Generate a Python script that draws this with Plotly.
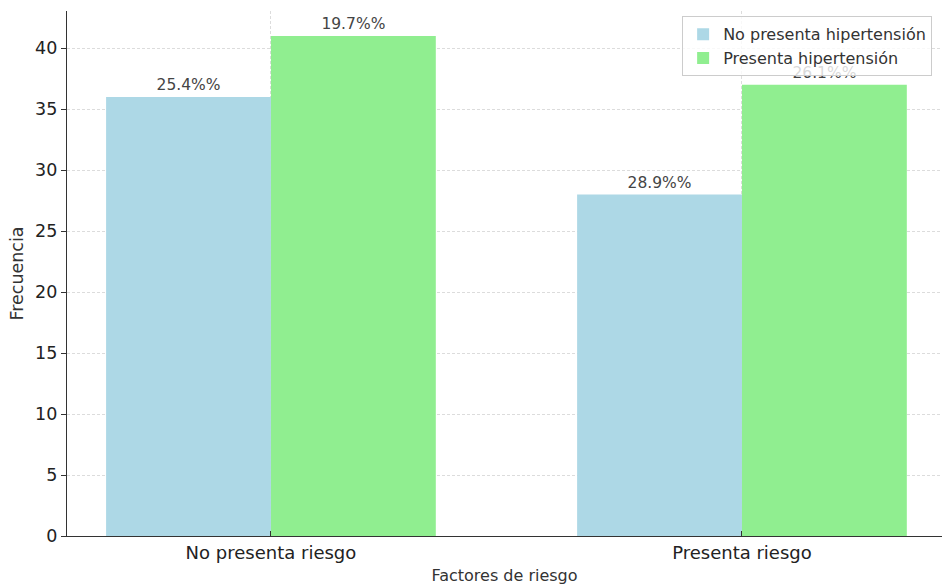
import plotly.graph_objects as go

categories = ["No presenta riesgo", "Presenta riesgo"]
series_names = ["No presenta hipertensión", "Presenta hipertensión"]
no_htn = [36, 28]
si_htn = [41, 37]
no_htn_labels = ["25.4%%", "28.9%%"]
si_htn_labels = ["19.7%%", "26.1%%"]
colors = ["#ADD8E6", "#90EE90"]
y_ticks = [0, 5, 10, 15, 20, 25, 30, 35, 40]

font_family = "DejaVu Sans"

fig = go.Figure()
for name, vals, labels, col in [
    (series_names[0], no_htn, no_htn_labels, colors[0]),
    (series_names[1], si_htn, si_htn_labels, colors[1]),
]:
    fig.add_trace(go.Bar(
        x=categories, y=vals, name=name, marker_color=col,
        marker_line_width=0,
        text=labels, textposition="outside", cliponaxis=False,
        textfont=dict(family=font_family, size=15.5, color="#444444"),
    ))

fig.update_layout(
    width=942, height=588,
    margin=dict(l=67, r=0, t=11, b=52),
    paper_bgcolor="white", plot_bgcolor="white",
    barmode="group", bargap=0.3, bargroupgap=0,
    font=dict(family=font_family, color="#333333"),
    legend=dict(
        x=0.703, y=0.99, xanchor="left", yanchor="top",
        bgcolor="rgba(255,255,255,0.8)", bordercolor="#cccccc", borderwidth=1,
        font=dict(family=font_family, size=16, color="#333333"),
        tracegroupgap=0, itemwidth=30,
    ),
    showlegend=True,
)
fig.update_xaxes(
    range=[-0.433, 1.4247], type="category",
    showline=True, linecolor="#333333", linewidth=1.2,
    ticks="inside", ticklen=5, tickcolor="#333333",
    showgrid=True, gridcolor="#dcdcdc", griddash="3px,2px", gridwidth=1,
    tickfont=dict(family=font_family, size=18, color="#222222"),
    title=dict(text="Factores de riesgo", font=dict(family=font_family, size=16, color="#333333"), standoff=8),
)
fig.update_yaxes(
    range=[0, 43.05], tickvals=y_ticks,
    showline=True, linecolor="#333333", linewidth=1.2,
    ticks="outside", ticklen=5, tickcolor="#333333",
    showgrid=True, gridcolor="#dcdcdc", griddash="3px,2px", gridwidth=1,
    zeroline=False,
    tickfont=dict(family=font_family, size=17.5, color="#222222"),
    title=dict(text="Frecuencia", font=dict(family=font_family, size=17.5, color="#333333"), standoff=6),
)

fig.write_html("out.html")
